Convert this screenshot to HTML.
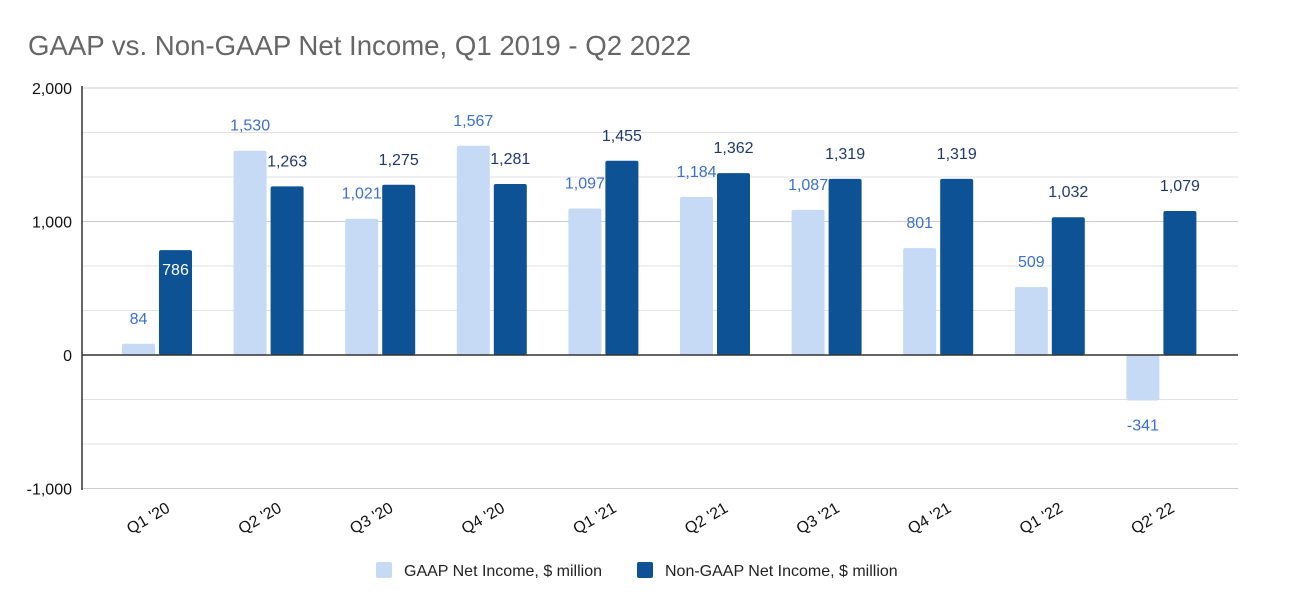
<!DOCTYPE html>
<html><head><meta charset="utf-8"><style>
body{margin:0;background:#fff;font-family:"Liberation Sans",sans-serif}
</style></head><body>
<svg id="c" width="1292" height="612" style="display:block">
<text x="28" y="55" font-size="27.6" fill="#666">GAAP vs. Non-GAAP Net Income, Q1 2019 - Q2 2022</text>
<g id="grid"></g><g id="bars"></g>
<g>
<rect x="376" y="562" width="16" height="16" rx="2" fill="#c6d9f5"/>
<text x="404" y="576" font-size="16" fill="#222">GAAP Net Income, $ million</text>
<rect x="637" y="562" width="16" height="16" rx="2" fill="#0d5294"/>
<text x="665" y="576" font-size="16" fill="#222">Non-GAAP Net Income, $ million</text>
</g>
</svg>
<script>
const categories=["Q1 '20","Q2 '20","Q3 '20","Q4 '20","Q1 '21","Q2 '21","Q3 '21","Q4 '21","Q1 '22","Q2' 22"];
const gaap=[84,1530,1021,1567,1097,1184,1087,801,509,-341];
const nongaap=[786,1263,1275,1281,1455,1362,1319,1319,1032,1079];
const yTicks=[2000,1000,0,-1000];
const yTickLabels=["2,000","1,000","0","-1,000"];
const NS="http://www.w3.org/2000/svg";
const y=v=>355-v*0.1335;
const cx=i=>157+i*111.6;
function mk(t,a,p){const e=document.createElementNS(NS,t);for(const k in a)e.setAttribute(k,a[k]);p.appendChild(e);return e;}
const grid=document.getElementById('grid'),bars=document.getElementById('bars');
for(let k=-3;k<=6;k++){const v=k*1000/3;if(Math.abs(v)<1)continue;
const l=mk('line',{x1:82,x2:1238,y1:y(v),y2:y(v),stroke:(k%3===0)?'#ccc':'#e2e2e2','stroke-width':1},grid);

}
yTicks.forEach((v,i)=>{const t=mk('text',{x:72,y:y(v)+6,'text-anchor':'end','font-size':16,fill:'#111'},grid);t.textContent=yTickLabels[i];

});
const fmt=v=>(v<0?'-':'')+Math.abs(v).toLocaleString('en-US');
categories.forEach((c,i)=>{
 const x0=cx(i)-35,x1=cx(i)+2;
 const g=mk('rect',{x:x0,y:Math.min(y(0),y(gaap[i])),width:33,height:Math.abs(y(gaap[i])-y(0)),fill:'#c6d9f5',rx:2},bars);
 
 
 const n=mk('rect',{x:x1,y:Math.min(y(0),y(nongaap[i])),width:33,height:Math.abs(y(nongaap[i])-y(0)),fill:'#0d5294',rx:2},bars);
 
 
 const gl=mk('text',{x:x0+16.5,y:gaap[i]<0?y(gaap[i])+30:y(gaap[i])-20,'text-anchor':'middle','font-size':16,fill:'#3b6fd0'},bars);gl.textContent=fmt(gaap[i]);
 
 
 const inside=i===0;
 const nl=mk('text',{x:x1+16.5,y:inside?y(nongaap[i])+25:y(nongaap[i])-20,'text-anchor':'middle','font-size':16,fill:inside?'#fff':'#1c3a6e'},bars);nl.textContent=fmt(nongaap[i]);
 
 
 const xl=mk('text',{transform:`translate(${cx(i)+14},511) rotate(-30)`,'text-anchor':'end','font-size':16,fill:'#111'},bars);xl.textContent=c;
 
 
});
const z=mk('line',{x1:82,x2:1238,y1:y(0),y2:y(0),stroke:'#333','stroke-width':1.5},bars);


const ax=mk('line',{x1:82,x2:82,y1:86,y2:490,stroke:'#333','stroke-width':1.5},bars);


</script>
</body></html>
